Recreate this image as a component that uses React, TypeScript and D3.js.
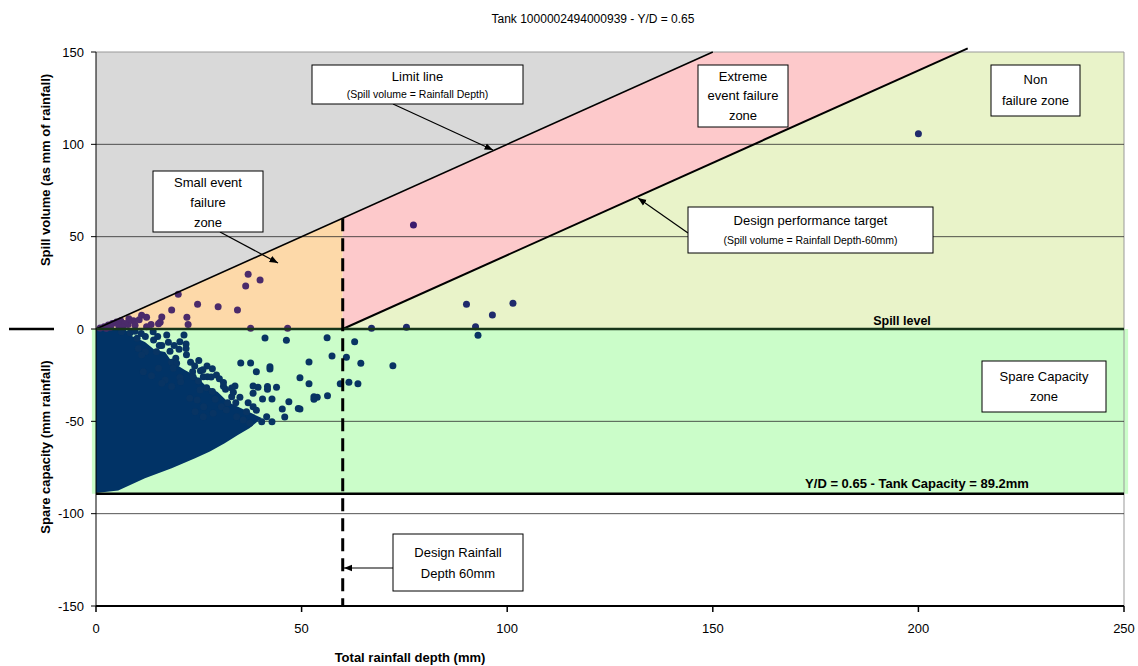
import React from "react";
import * as d3 from "d3";

const W = 1138;
const H = 666;

const xTicks = [0, 50, 100, 150, 200, 250];
const yTicks = [-150, -100, -50, 0, 50, 100, 150];
const gridValues = [-100, -50, 50, 100];

const tankCapacity = 89.2;
const designDepth = 60;

const limitLine: [number, number][] = [[0, 0], [150, 150]];
const designLine: [number, number][] = [[60, 0], [212, 152]];

const grayZone: [number, number][] = [[0, 0], [0, 150], [150, 150]];
const smallEventZone: [number, number][] = [[0, 0], [60, 60], [60, 0]];
const extremeZone: [number, number][] = [[60, 0], [60, 60], [150, 150], [210, 150]];
const nonFailureZone: [number, number][] = [[60, 0], [210, 150], [250, 150], [250, 0]];
const spareZone: [number, number][] = [[-1, 0], [251, 0], [251, -89.2], [-1, -89.2]];

// dense core of the event cloud (outline)
const denseCloud: [number, number][] = [
  [0, 0], [7.0, 0], [8.7, -3.8], [11.9, -7.0], [14.3, -11.4], [16.8, -12.5], [18.5, -17.9],
  [21.6, -22.2], [24.3, -25.4], [26.5, -30.3], [29.6, -34.1], [32.1, -39.5], [36.2, -43.9],
  [40.3, -48.2], [37.4, -53.6], [34.5, -57.4], [31.3, -61.9], [27.7, -66.4], [24.1, -70.0],
  [18.4, -75.4], [11.9, -80.8], [5.4, -87.5], [0, -88.8],
];

// individual events: [rainfall depth, spill volume / spare capacity]
const events: [number, number][] = [
  [20.0, 18.8], [37.0, 29.6], [36.4, 23.3], [39.9, 26.5], [24.7, 13.4], [29.7, 12.1], [34.4, 10.3],
  [18.4, 10.3], [22.1, 6.3], [22.4, 2.5], [16.0, 6.5], [15.6, 3.6], [15.2, 2.9], [11.1, 7.4],
  [12.3, 6.3], [13.4, 2.5], [12.3, 1.2], [9.1, 4.5], [7.8, 2.5], [37.6, 0.4], [46.6, 0.4],
  [1, 0.5], [2, 1.2], [3, 2.2], [4, 3], [5, 3.8], [6, 4.5], [3.5, 1], [5.5, 2], [7, 3], [8, 5.5],
  [6.5, 1], [2.5, 0.4], [9.5, 2], [10.5, 5],
  [77.2, 56.3],
  [90.1, 13.4], [101.4, 13.9], [96.4, 7.6], [67.0, 0.4], [75.5, 0.9], [92.3, 1.2], [200.0, 105.7],
  [92.9, -3.4], [56.2, -4.7], [62.9, -6.9], [57.4, -14.6], [60.9, -15.3], [51.8, -17.9], [64.4, -18.6],
  [72.2, -19.9], [49.6, -26.4], [51.8, -29.6], [59.4, -29.6], [61.5, -28.9], [63.7, -29.6],
  [53.0, -36.7], [53.8, -37.0], [53.0, -38.1], [56.3, -36.1], [49.6, -43.3], [41.1, -4.9],
  [46.3, -6.1], [35.2, -18.4], [37.6, -18.4], [42.3, -20.4], [42.3, -21.7], [39.0, -23.1],
  [43.9, -31.6], [41.7, -31.2], [41.7, -32.6], [39.4, -31.6], [38.2, -30.9], [38.2, -34.8],
  [40.5, -37.9], [42.8, -37.9], [46.9, -39.4], [45.3, -43.3], [45.9, -47.6], [42.8, -50.2],
  [49.2, -43.1], [33.8, -30.9], [31.5, -32.6], [33.0, -36.7], [33.4, -34.3], [28.3, -21.5],
  [29.3, -24.9], [27.1, -25.8], [26.1, -25.8], [25.4, -22.6], [23.5, -23.1], [23.6, -25.8],
  [24.9, -28.2], [26.9, -31.8], [28.3, -33.9], [25.3, -33.0], [22.8, -37.5], [24.6, -38.4],
  [26.2, -42.1], [24.1, -44.8], [26.1, -47.5], [28.5, -45.6], [30.5, -42.1], [31.7, -43.9],
  [34.2, -47.5], [36.6, -44.8], [38.2, -42.1], [35.8, -49.3], [37.4, -51.1], [40.3, -50.2],
  [41.5, -47.5], [8.3, -2.0], [6.2, -1.5], [13.9, -1.5], [17.2, -3.2], [17.6, -7.2], [21.4, -3.2],
  [20.4, -6.9], [21.9, -8.1], [20.2, -11.0], [21.9, -10.5], [15.4, -9.0], [14.7, -12.3],
  [12.0, -12.3], [10.3, -10.5], [11.1, -14.1], [19.4, -15.9], [18.4, -18.0], [19.6, -18.6],
  [18.8, -21.3], [15.2, -21.3], [13.5, -25.3], [11.5, -23.1], [20.4, -26.2], [20.6, -28.5],
  [18.4, -31.2], [16.8, -27.6], [16.0, -29.4],
  [10, -5], [12, -4], [14, -6], [16, -9], [18, -12], [22, -14], [23, -18], [25, -17], [27, -20],
  [30, -27], [31, -29], [33, -32], [35, -37], [37, -40], [39, -44], [32, -40], [29, -38],
  [9.5, -1.2], [11, -2.5], [15, -4], [19, -9], [24, -20], [26, -22], [28, -26], [31, -31], [34, -40],
];

const FONT = "'Liberation Sans', Arial, sans-serif";

const x = d3.scaleLinear().domain([0, 250]).range([96, 1124]);
const y = d3.scaleLinear().domain([-150, 150]).range([606, 52]);

const poly = (pts: [number, number][]) =>
  d3.line<[number, number]>().x((d) => x(d[0])).y((d) => y(d[1]))(pts) + "Z";
const line = (pts: [number, number][]) =>
  d3.line<[number, number]>().x((d) => x(d[0])).y((d) => y(d[1]))(pts) || "";

function dotColor(px: number, py: number) {
  if (py <= 0) return "#083463";
  if (py > px) return "#4a4a8a";
  if (px < designDepth) return "#4b2b6b";
  if (py > px - designDepth) return "#3a1a6e";
  return "#1f2a6c";
}

function Box({ x0, y0, w, h, lines }: { x0: number; y0: number; w: number; h: number; lines: { t: string; dy: number; size: number }[] }) {
  return (
    <g>
      <rect x={x0} y={y0} width={w} height={h} fill="#fff" stroke="#000" strokeWidth={1} />
      {lines.map((l, i) => (
        <text key={i} x={x0 + w / 2} y={y0 + l.dy} textAnchor="middle" fontSize={l.size} fontFamily={FONT} fill="#000">
          {l.t}
        </text>
      ))}
    </g>
  );
}

export default function App() {
  return (
    <svg width={W} height={H} style={{ position: "absolute", left: 0, top: 0, background: "#fff" }}>
      <defs>
        <marker id="arr" viewBox="0 0 10 10" refX="10" refY="5" markerWidth="7" markerHeight="7" orient="auto-start-reverse">
          <path d="M0,1 L10,5 L0,9 Z" fill="#000" />
        </marker>
      </defs>

      {/* title */}
      <text x={593} y={23} textAnchor="middle" fontSize={12} fontFamily={FONT}>Tank 1000002494000939 - Y/D = 0.65</text>

      {/* zones */}
      <path d={poly(nonFailureZone)} fill="#e9f3c9" />
      <path d={poly(grayZone)} fill="#d9d9d9" />
      <path d={poly(smallEventZone)} fill="#fdd9a9" />
      <path d={poly(extremeZone)} fill="#fdc9cb" />
      <path d={poly(spareZone)} fill="#cbfdc9" />

      {/* plot border */}
      <line x1={96} x2={1124} y1={52} y2={52} stroke="#999" strokeWidth={1} />
      <line x1={1124} x2={1124} y1={52} y2={606} stroke="#999" strokeWidth={1} />

      {/* gridlines */}
      {gridValues.map((v) => (
        <line key={v} x1={x(0)} x2={x(250)} y1={y(v)} y2={y(v)} stroke="#2a2a2a" strokeWidth={0.8} />
      ))}

      {/* event cloud */}
      <path d={poly(denseCloud)} fill="#013366" />
      {events.map((e, i) => (
        <circle key={i} cx={x(e[0])} cy={y(e[1])} r={3.5} fill={dotColor(e[0], e[1])} />
      ))}

      {/* reference lines */}
      <path d={line(limitLine)} stroke="#000" strokeWidth={1.6} fill="none" />
      <path d={line(designLine)} stroke="#000" strokeWidth={2} fill="none" />
      <line x1={x(0)} x2={x(250)} y1={y(0)} y2={y(0)} stroke="#17361a" strokeWidth={2.5} />
      <line x1={x(0)} x2={x(250)} y1={y(-tankCapacity)} y2={y(-tankCapacity)} stroke="#000" strokeWidth={2.5} />
      <line x1={x(designDepth)} x2={x(designDepth)} y1={y(designDepth)} y2={y(-150)} stroke="#000" strokeWidth={3} strokeDasharray="13,7" />

      {/* axes */}
      <line x1={96} x2={96} y1={52} y2={606} stroke="#000" strokeWidth={1} />
      <line x1={96} x2={1124} y1={606} y2={606} stroke="#000" strokeWidth={2} />
      {yTicks.map((t) => (
        <g key={t}>
          <line x1={91} x2={96} y1={y(t)} y2={y(t)} stroke="#000" />
          <text x={84} y={y(t) + 4.5} textAnchor="end" fontSize={13} fontFamily={FONT}>{t}</text>
        </g>
      ))}
      {xTicks.map((t) => (
        <g key={t}>
          <line x1={x(t)} x2={x(t)} y1={606} y2={612} stroke="#000" strokeWidth={1.5} />
          <text x={x(t)} y={633} textAnchor="middle" fontSize={13} fontFamily={FONT}>{t}</text>
        </g>
      ))}

      {/* axis titles */}
      <text x={410} y={662} textAnchor="middle" fontSize={13} fontWeight="bold" fontFamily={FONT}>Total rainfall depth (mm)</text>
      <text transform="translate(50,170) rotate(-90)" textAnchor="middle" fontSize={13} fontWeight="bold" fontFamily={FONT}>Spill volume (as mm of rainfall)</text>
      <text transform="translate(50,447) rotate(-90)" textAnchor="middle" fontSize={13} fontWeight="bold" fontFamily={FONT}>Spare capacity (mm rainfall)</text>
      <line x1={9} x2={54} y1={329} y2={329} stroke="#000" strokeWidth={2.5} />

      {/* zone labels */}
      <text x={902} y={325} textAnchor="middle" fontSize={12.5} fontWeight="bold" fontFamily={FONT}>Spill level</text>
      <text x={917} y={488} textAnchor="middle" fontSize={13} fontWeight="bold" fontFamily={FONT}>Y/D = 0.65 - Tank Capacity = 89.2mm</text>

      {/* annotation arrows */}
      <line x1={393} y1={104} x2={493} y2={150} stroke="#000" strokeWidth={1.2} markerEnd="url(#arr)" />
      <line x1={688} y1={233} x2={638} y2={198} stroke="#000" strokeWidth={1.2} markerEnd="url(#arr)" />
      <line x1={220} y1={232} x2={278} y2={263} stroke="#000" strokeWidth={1.2} markerEnd="url(#arr)" />
      <line x1={393} y1={568} x2={344} y2={568} stroke="#000" strokeWidth={1.2} markerEnd="url(#arr)" />

      {/* annotation boxes */}
      <Box x0={312} y0={65} w={211} h={39} lines={[{ t: "Limit line", dy: 16, size: 13 }, { t: "(Spill volume = Rainfall Depth)", dy: 33, size: 10.5 }]} />
      <Box x0={698} y0={65} w={90} h={62} lines={[{ t: "Extreme", dy: 16, size: 13 }, { t: "event failure", dy: 35, size: 13 }, { t: "zone", dy: 55, size: 13 }]} />
      <Box x0={991} y0={65} w={89} h={51} lines={[{ t: "Non", dy: 19, size: 13 }, { t: "failure zone", dy: 40, size: 13 }]} />
      <Box x0={688} y0={207} w={245} h={46} lines={[{ t: "Design performance target", dy: 18, size: 13 }, { t: "(Spill volume = Rainfall Depth-60mm)", dy: 37, size: 10.5 }]} />
      <Box x0={153} y0={171} w={110} h={61} lines={[{ t: "Small event", dy: 16, size: 13 }, { t: "failure", dy: 36, size: 13 }, { t: "zone", dy: 56, size: 13 }]} />
      <Box x0={982} y0={361} w={124} h={51} lines={[{ t: "Spare Capacity", dy: 20, size: 13 }, { t: "zone", dy: 40, size: 13 }]} />
      <Box x0={393} y0={534} w={130} h={57} lines={[{ t: "Design Rainfall", dy: 23, size: 13 }, { t: "Depth 60mm", dy: 44, size: 13 }]} />
    </svg>
  );
}
